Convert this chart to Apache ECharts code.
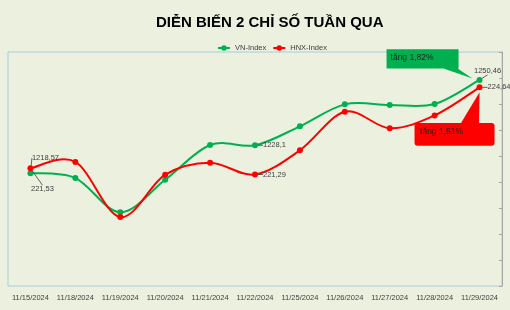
<!DOCTYPE html>
<html>
<head>
<meta charset="utf-8">
<script src="https://cdn.jsdelivr.net/npm/echarts@6/dist/echarts.min.js"></script>
<style>
html,body{margin:0;padding:0;background:#ecf0df;}
#c{width:510px;height:310px;}
</style>
</head>
<body>
<div id="c"></div>
<script>
var categories = ['11/15/2024','11/18/2024','11/19/2024','11/20/2024','11/21/2024','11/22/2024','11/25/2024','11/26/2024','11/27/2024','11/28/2024','11/29/2024'];
var vnIndex = [1218.57, 1216.9, 1205.2, 1216.3, 1228.2, 1228.1, 1234.6, 1242.1, 1241.9, 1242.2, 1250.46];
var hnxIndex = [221.53, 221.77, 219.65, 221.28, 221.74, 221.29, 222.22, 223.70, 223.07, 223.56, 224.64];
var vnLabelIdx = [0, 5, 10];
var hnxLabelIdx = [0, 5, 10];
var seriesNames = ['VN-Index', 'HNX-Index'];
var titleText = 'DIỄN BIẾN 2 CHỈ SỐ TUẦN QUA';
var calloutGreen = 'tăng 1,82%';
var calloutRed = 'tăng 1,51%';

var FONT = '"Liberation Sans", Arial, sans-serif';
var GREEN = '#00b050', RED = '#ff0000', TXT = '#404040';

function fmt(v){ return String(v).replace('.', ','); }

var vnPos = {0:'top', 5:'right', 10:'top'};
var hnxPos = {0:'bottom', 5:'right', 10:'right'};

function buildData(arr, idxs, pos){
  return arr.map(function(v,i){
    var d = {value: v};
    if (idxs.indexOf(i) >= 0) {
      d.label = {show: true, position: pos[i], distance: 5};
    }
    return d;
  });
}

// Excel-like smoothed curve (Catmull-Rom -> cubic Bezier), drawn via library coords
function smoothRenderer(values, color){
  return function(params, api){
    if (params.dataIndex !== 0) return null;
    var pts = values.map(function(v,i){ return api.coord([i, v]); });
    var n = pts.length;
    var d = 'M' + pts[0][0] + ' ' + pts[0][1];
    for (var i = 0; i < n-1; i++){
      var p0 = pts[Math.max(i-1,0)], p1 = pts[i], p2 = pts[i+1], p3 = pts[Math.min(i+2,n-1)];
      var c1x = p1[0] + (p2[0]-p0[0])/6, c1y = p1[1] + (p2[1]-p0[1])/6;
      var c2x = p2[0] - (p3[0]-p1[0])/6, c2y = p2[1] - (p3[1]-p1[1])/6;
      d += ' C' + c1x + ' ' + c1y + ' ' + c2x + ' ' + c2y + ' ' + p2[0] + ' ' + p2[1];
    }
    return {type: 'path', shape: {pathData: d}, style: {fill: 'none', stroke: color, lineWidth: 2}, silent: true};
  };
}

var chart = echarts.init(document.getElementById('c'), null, {renderer:'canvas'});
var option = {
  backgroundColor: '#ecf0df',
  animation: false,
  title: {
    text: titleText, left: 151, top: 10,
    textStyle: {fontFamily: FONT, fontSize: 15, fontWeight: 'bold', color: '#000'}
  },
  legend: {
    data: [
      {name: seriesNames[0], lineStyle: {color: GREEN, width: 2, opacity: 1}},
      {name: seriesNames[1], lineStyle: {color: RED, width: 2, opacity: 1}}
    ],
    left: 212, top: 39, itemWidth: 12, itemHeight: 7, itemGap: 6,
    textStyle: {fontFamily: FONT, fontSize: 7.5, color: TXT}
  },
  grid: {left: 8, right: 8, top: 52, bottom: 24, show: true, borderColor: '#a9cbe0', borderWidth: 1, backgroundColor: 'transparent'},
  xAxis: {
    type: 'category', data: categories, boundaryGap: true,
    axisLine: {show: false}, axisTick: {show: false},
    axisLabel: {fontFamily: FONT, fontSize: 7.5, color: TXT, margin: 8, interval: 0}
  },
  yAxis: [
    {type: 'value', min: 1180, max: 1260, interval: 10, position: 'left',
     axisLine: {show: false}, axisTick: {show: false}, axisLabel: {show: false}, splitLine: {show: false}},
    {type: 'value', min: 217, max: 226, interval: 1, position: 'right',
     axisLine: {show: true, lineStyle: {color: '#a6a6a6'}},
     axisTick: {show: true, inside: true, length: 3, lineStyle: {color: '#a6a6a6'}},
     axisLabel: {show: false}, splitLine: {show: false}}
  ],
  series: [
    {
      type: 'custom', yAxisIndex: 0, z: 2, silent: true,
      data: vnIndex, renderItem: smoothRenderer(vnIndex, GREEN)
    },
    {
      type: 'custom', yAxisIndex: 1, z: 2, silent: true,
      data: hnxIndex, renderItem: smoothRenderer(hnxIndex, RED)
    },
    {
      name: seriesNames[0], type: 'line', yAxisIndex: 0,
      data: buildData(vnIndex, vnLabelIdx, vnPos),
      symbol: 'circle', symbolSize: 6, z: 3,
      lineStyle: {color: GREEN, width: 2, opacity: 0}, itemStyle: {color: GREEN},
      label: {show: false, fontFamily: FONT, fontSize: 7.5, color: TXT, formatter: function(p){return fmt(p.value);}},
      labelLine: {show: true, lineStyle: {color: '#404040', width: 0.8}},
      labelLayout: function(p){
        if (p.dataIndex === 0) return {dx: 15, dy: -3};
        if (p.dataIndex === 10) return {dx: 8, dy: 3};
        return {};
      }
    },
    {
      name: seriesNames[1], type: 'line', yAxisIndex: 1,
      data: buildData(hnxIndex, hnxLabelIdx, hnxPos),
      symbol: 'circle', symbolSize: 6, z: 4,
      lineStyle: {color: RED, width: 2, opacity: 0}, itemStyle: {color: RED},
      label: {show: false, fontFamily: FONT, fontSize: 7.5, color: TXT, formatter: function(p){return fmt(p.value);}},
      labelLine: {show: true, lineStyle: {color: '#404040', width: 0.8}},
      labelLayout: function(p){
        if (p.dataIndex === 0) return {dx: 12, dy: 9};
        return {};
      }
    }
  ]
};
chart.setOption(option);

// Callouts anchored at last points
var last = categories.length - 1;
var pg = chart.convertToPixel({seriesIndex: 2}, [last, vnIndex[last]]);
var pr = chart.convertToPixel({seriesIndex: 3}, [last, hnxIndex[last]]);

var gx = pg[0], gy = pg[1];
var rx = pr[0], ry = pr[1];
chart.setOption({
  graphic: [
    {type: 'polygon', z: 10, shape: {points: [
      [gx-93, gy-30.7], [gx-21, gy-30.7], [gx-21, gy-11.4], [gx-22, gy-11.4], [gx-7, gy-1.4], [gx-36, gy-11.4], [gx-93, gy-11.4]
    ]}, style: {fill: GREEN}},
    {type: 'text', z: 11, left: gx-89, top: gy-26.5, style: {text: calloutGreen, fill: '#1e1e1e', font: '8.5px ' + FONT}},
    {type: 'rect', z: 10, shape: {x: rx-65, y: ry+35.6, width: 80, height: 22.7, r: 3}, style: {fill: RED}},
    {type: 'polygon', z: 10, shape: {points: [
      [rx-19, ry+36.5], [rx, ry+5], [rx-0.5, ry+36.5]
    ]}, style: {fill: RED}},
    {type: 'text', z: 11, left: rx-59.5, top: ry+40, style: {text: calloutRed, fill: '#1e1e1e', font: '8.5px ' + FONT}}
  ]
});
</script>
</body>
</html>
